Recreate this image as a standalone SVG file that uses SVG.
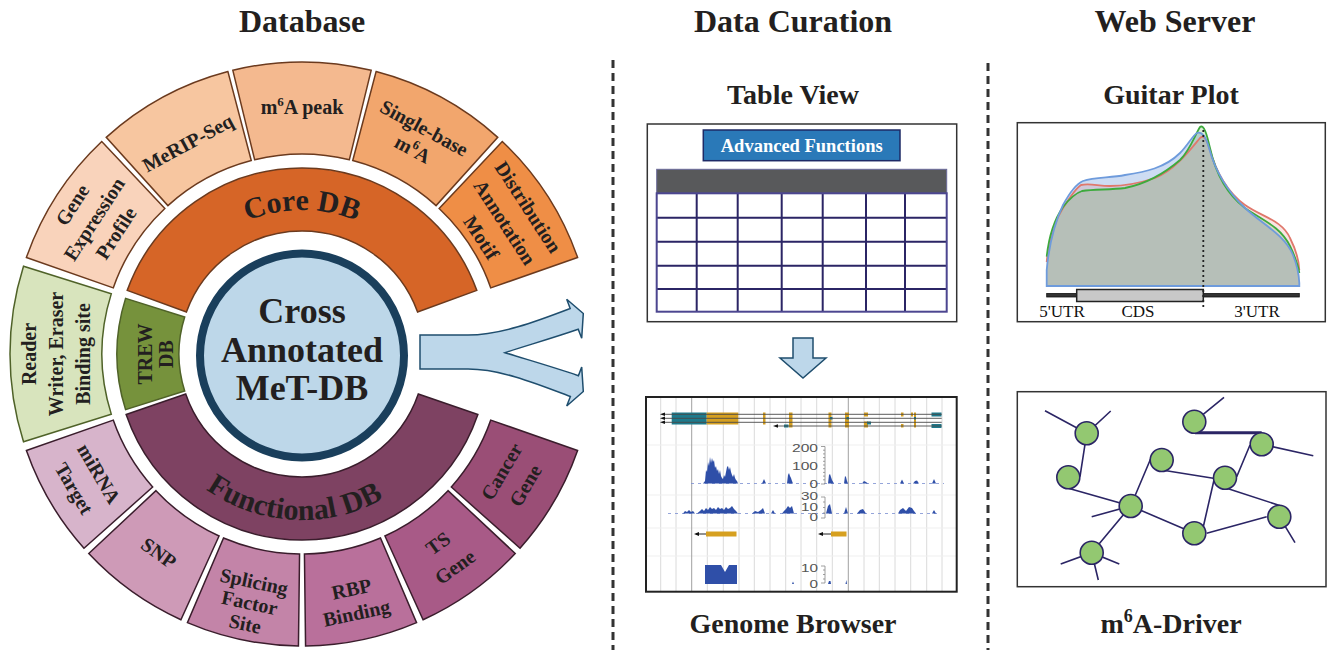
<svg xmlns="http://www.w3.org/2000/svg" width="1327" height="650" viewBox="0 0 1327 650">
  <style>
    .title { font-family: "Liberation Serif", "Times New Roman", serif; font-weight: bold; fill: #231F20; text-anchor: middle; }
    .seg { font-family: "Liberation Serif", "Times New Roman", serif; font-weight: bold; font-size: 20px; fill: #231F20; text-anchor: middle; }
    .ring { font-family: "Liberation Serif", "Times New Roman", serif; font-weight: bold; fill: #231F20; }
    .orange { stroke: #6B3A1E; stroke-width: 1.5; }
    .green { stroke: #4F6228; stroke-width: 1.5; }
    .plum { stroke: #3A1D2C; stroke-width: 1.5; }
    .grid { stroke: #2B2565; stroke-width: 2; fill: none; }
    .vgrid { stroke: #DADADA; stroke-width: 1; }
    .cov { fill: #2F4FA8; }
    .axis { font-family: "Liberation Sans", Arial, sans-serif; font-size: 11px; fill: #555; }
    .tick { stroke: #888; stroke-width: 0.8; fill: none; }
    .edge { stroke: #2B2565; stroke-width: 1.6; fill: none; }
    .node { fill: #93C871; stroke: #2B2565; stroke-width: 1.6; }
    .utr { font-family: "Liberation Serif", "Times New Roman", serif; font-size: 17px; fill: #111; text-anchor: middle; }
  </style>
  <defs>
    <!-- sector shapes centred on "up"; each segment group rotates one into place -->
    <path id="secTop" d="M -69.16 -283.69 A 292 292 0 0 1 69.16 -283.69 L 47.37 -194.31 A 200 200 0 0 0 -47.37 -194.31 Z"/>
    <path id="secSide" d="M -87.81 -278.49 A 292 292 0 0 1 87.81 -278.49 L 60.14 -190.74 A 200 200 0 0 0 -60.14 -190.74 Z"/>
    <path id="secBot" d="M -56.72 -286.44 A 292 292 0 0 1 56.72 -286.44 L 38.85 -196.19 A 200 200 0 0 0 -38.85 -196.19 Z"/>
    <path id="arcCore" d="M -124.7 -72 A 144 144 0 0 1 124.7 -72"/>
    <path id="arcFunc" d="M -147.9 75.4 A 166 166 0 0 0 139.2 90.4"/>
  </defs>

  <!-- column headings -->
  <text class="title" x="302" y="32" font-size="32">Database</text>
  <text class="title" x="793" y="32" font-size="32">Data Curation</text>
  <text class="title" x="1175" y="32" font-size="32">Web Server</text>

  <!-- column separators -->
  <g stroke="#333" stroke-width="3" stroke-dasharray="8 5">
    <line x1="613" y1="60" x2="613" y2="650"/>
    <line x1="988" y1="63" x2="988" y2="650"/>
  </g>

  <!-- ===== database wheel ===== -->
  <g id="wheel" transform="translate(302 354)">
    <!-- outer ring, top half -->
    <g id="seg-gene" transform="rotate(-57)">
      <use href="#secTop" class="orange" fill="#F9D3BB"/>
      <text class="seg" y="-267">Gene</text>
      <text class="seg" y="-241">Expression</text>
      <text class="seg" y="-215">Profile</text>
    </g>
    <g id="seg-merip" transform="rotate(-28.4)">
      <use href="#secTop" class="orange" fill="#F7C6A0"/>
      <text class="seg" y="-233">MeRIP-Seq</text>
    </g>
    <g id="seg-peak" transform="rotate(0)">
      <use href="#secTop" class="orange" fill="#F4B98F"/>
      <text class="seg" y="-240">m<tspan dy="-8" font-size="13">6</tspan><tspan dy="8">A peak</tspan></text>
    </g>
    <g id="seg-single" transform="rotate(28.4)">
      <use href="#secTop" class="orange" fill="#F2A66D"/>
      <text class="seg" y="-250">Single-base</text>
      <text class="seg" y="-226">m<tspan dy="-8" font-size="13">6</tspan><tspan dy="8">A</tspan></text>
    </g>
    <g id="seg-dist" transform="rotate(57)">
      <use href="#secTop" class="orange" fill="#EF8E46"/>
      <text class="seg" y="-263">Distribution</text>
      <text class="seg" y="-235">Annotation</text>
      <text class="seg" y="-207">Motif</text>
    </g>
    <g id="seg-reader" transform="rotate(-90)">
      <use href="#secSide" class="green" fill="#D8E4BD"/>
      <text class="seg" y="-266" font-size="19">Reader</text>
      <text class="seg" y="-239" font-size="19">Writer, Eraser</text>
      <text class="seg" y="-212" font-size="19">Binding site</text>
    </g>

    <!-- outer ring, bottom half -->
    <g id="seg-cancer" transform="rotate(120.5)">
      <use href="#secBot" class="plum" fill="#9A4E76"/>
      <g transform="rotate(180)">
        <text class="seg" y="238.5">Cancer</text>
        <text class="seg" y="266">Gene</text>
      </g>
    </g>
    <g id="seg-ts" transform="rotate(144.3)">
      <use href="#secBot" class="plum" fill="#A85A87"/>
      <g transform="rotate(180)">
        <text class="seg" y="240">TS</text>
        <text class="seg" y="269">Gene</text>
      </g>
    </g>
    <g id="seg-rbp" transform="rotate(168.1)">
      <use href="#secBot" class="plum" fill="#B9709B"/>
      <g transform="rotate(180)">
        <text class="seg" y="247">RBP</text>
        <text class="seg" y="271.5">Binding</text>
      </g>
    </g>
    <g id="seg-splicing" transform="rotate(191.9)">
      <use href="#secBot" class="plum" fill="#C384A8"/>
      <g transform="rotate(180)">
        <text class="seg" y="239.5">Splicing</text>
        <text class="seg" y="261">Factor</text>
        <text class="seg" y="282.5">Site</text>
      </g>
    </g>
    <g id="seg-snp" transform="rotate(215.7)">
      <use href="#secBot" class="plum" fill="#CE9AB7"/>
      <g transform="rotate(180)">
        <text class="seg" y="252">SNP</text>
      </g>
    </g>
    <g id="seg-mirna" transform="rotate(239.5)">
      <use href="#secBot" class="plum" fill="#D7B4CB"/>
      <g transform="rotate(180)">
        <text class="seg" y="242.5">miRNA</text>
        <text class="seg" y="271.5">Target</text>
      </g>
    </g>

    <!-- inner ring -->
    <g id="core-db">
      <path class="orange" fill="#D66527" d="M -174.78 -63.62 A 186 186 0 0 1 174.78 -63.62 L 115.58 -42.07 A 123 123 0 0 0 -115.58 -42.07 Z"/>
      <text class="ring" font-size="30"><textPath href="#arcCore" startOffset="50%" text-anchor="middle">Core DB</textPath></text>
    </g>
    <g id="trew-db" transform="rotate(-90)">
      <path class="green" fill="#76923C" d="M -55.63 -176.44 A 185 185 0 0 1 55.63 -176.44 L 36.99 -117.31 A 123 123 0 0 0 -36.99 -117.31 Z"/>
      <text class="seg" y="-150.5" font-size="27">TREW</text>
      <text class="seg" y="-129" font-size="27">DB</text>
    </g>
    <g id="functional-db">
      <path class="plum" fill="#7E4262" transform="rotate(180)" d="M -175.87 -60.56 A 186 186 0 0 1 175.87 -60.56 L 116.3 -40.05 A 123 123 0 0 0 -116.3 -40.05 Z"/>
      <text class="ring" font-size="30"><textPath href="#arcFunc" startOffset="50%" text-anchor="middle">Functional DB</textPath></text>
    </g>
  </g>

  <!-- hub -->
  <g id="hub">
    <circle cx="302" cy="355.5" r="102" fill="#BDD7E9" stroke="#1A3F5C" stroke-width="8"/>
    <text class="title" x="302" y="323" font-size="36">Cross</text>
    <text class="title" x="302" y="362" font-size="36">Annotated</text>
    <text class="title" x="302" y="400" font-size="36">MeT-DB</text>
  </g>

  <!-- connectors -->
  <g id="connectors" fill="#BDD7EA" stroke="#1F4E6E" stroke-width="1.5" stroke-linejoin="miter">
    <path d="M 420 335 L 468 335 C 500 335 535 322 570.2 308.5 L 566.7 299.3 L 583.3 313.5 L 581.7 338.3 L 578.2 329.3 C 550 339 525 346 505 352.7 C 525 359 550 366 578.4 375.7 L 581.7 367 L 583.3 391.5 L 566.7 406 L 570.4 396.5 C 535 383 500 369 468 369 L 420 369 Z"/>
    <path d="M 793 338 L 813 338 L 813 358 L 826 358 L 803 378 L 780 358 L 793 358 Z"/>
  </g>

  <!-- ===== table view ===== -->
  <g id="table-view">
    <text class="title" x="793" y="104" font-size="28">Table View</text>
    <rect x="647.3" y="124" width="309.4" height="197.7" fill="#fff" stroke="#333" stroke-width="1.5"/>
    <rect x="703.3" y="130" width="196.7" height="30.7" fill="#2A79B8" stroke="#1E2A66" stroke-width="1.5"/>
    <text class="title" x="801.7" y="151.5" font-size="18.5" style="fill:#fff">Advanced Functions</text>
    <rect x="656.7" y="169.3" width="290" height="24" fill="#58595B" stroke="#6B6A9A" stroke-width="1"/>
    <path class="grid" d="M 656.7 217.7 H 946.7 M 656.7 241.7 H 946.7 M 656.7 265.7 H 946.7 M 656.7 289 H 946.7 M 696.7 193.3 V 311.7 M 737.7 193.3 V 311.7 M 781.7 193.3 V 311.7 M 822.7 193.3 V 311.7 M 866 193.3 V 311.7 M 905 193.3 V 311.7"/>
    <rect x="656.7" y="193.3" width="290" height="118.4" fill="none" stroke="#4C4690" stroke-width="2"/>
  </g>

  <!-- ===== genome browser ===== -->
  <g id="genome-browser">
    <rect x="646" y="397" width="310.7" height="194.7" fill="#fff"/>
    <path class="vgrid" d="M 660.7 398 V 591 M 676 398 V 591 M 707.3 398 V 591 M 723.3 398 V 591 M 739 398 V 591 M 754.3 398 V 591 M 770 398 V 591 M 785.7 398 V 591 M 801 398 V 591 M 816.7 398 V 591 M 832.3 398 V 591 M 864 398 V 591 M 879.3 398 V 591 M 895 398 V 591 M 910.7 398 V 591 M 926.7 398 V 591 M 942 398 V 591"/>
    <path d="M 647 445 H 956 M 647 495 H 956 M 647 528 H 956 M 647 556 H 956" stroke="#EFEFEF" stroke-width="1"/>
    <path d="M 691.7 398 V 591 M 848.3 398 V 591" stroke="#A0A0A0" stroke-width="1"/>

    <!-- transcript models -->
    <rect x="671.7" y="412.5" width="35" height="12" fill="#1E7A8C"/>
    <rect x="706.7" y="412.5" width="31.6" height="12" fill="#D6A020"/>
    <g fill="#D6A020">
      <rect x="763" y="412.5" width="2.5" height="12"/>
      <rect x="789" y="412.5" width="3.5" height="15"/>
      <rect x="828.5" y="412.5" width="3" height="15"/>
      <rect x="845" y="412.5" width="4" height="15"/>
      <rect x="864" y="412.5" width="4" height="4"/>
      <rect x="864" y="421.5" width="4" height="6"/>
      <rect x="901" y="412.5" width="2.5" height="4"/>
      <rect x="901" y="424" width="2.5" height="3.5"/>
      <rect x="911" y="412.5" width="2" height="4"/>
      <rect x="914" y="412.5" width="2" height="15"/>
    </g>
    <g fill="#1E7A8C">
      <rect x="931.5" y="412.5" width="10" height="4"/>
      <rect x="931.5" y="424" width="10" height="4"/>
      <rect x="784" y="424.5" width="4.5" height="3"/>
      <rect x="830" y="417" width="2.5" height="2.5"/>
      <rect x="846.5" y="417" width="2.5" height="2.5"/>
      <rect x="867" y="421.5" width="4" height="3"/>
      <rect x="914" y="417" width="2" height="2.5"/>
    </g>
    <path d="M 664 414.3 H 941.7 M 664 418.3 H 941.7 M 664 422.3 H 941.7 M 777 426 H 941.7" stroke="#4A4A4A" stroke-width="0.9"/>
    <g fill="#111">
      <path d="M 660 414.3 L 665 412.6 L 665 416 Z"/>
      <path d="M 660 418.3 L 665 416.6 L 665 420 Z"/>
      <path d="M 660 422.3 L 665 420.6 L 665 424 Z"/>
      <path d="M 773 426 L 778 424.3 L 778 427.7 Z"/>
    </g>

    <!-- coverage track 1 -->
    <line x1="691" y1="483.5" x2="944" y2="483.5" stroke="#7A8ED0" stroke-width="0.8" stroke-dasharray="3 4"/>
    <path class="cov" d="M 703 483.5 L 705 481 L 706 470 L 707 472 L 708 462 L 709 466 L 710 457 L 711 463 L 712 458 L 713 462 L 714 460 L 715 468 L 716 466 L 717 471 L 718 469 L 719 474 L 720 470 L 721 476 L 722 478 L 723 479 L 724 475 L 725 477 L 726 472 L 727 467 L 728 466 L 729 470 L 730 467 L 731 472 L 732 475 L 733 477 L 734 474 L 735 478 L 736 480 L 737 481 L 738 483.5 Z M 762 483.5 L 764 479 L 766 483.5 Z M 787 483.5 L 788 475 L 789 473 L 790 476 L 791 478 L 792 481 L 793 483.5 Z M 828 483.5 L 829 475 L 830 474 L 831 477 L 832 480 L 834 483.5 Z M 844 483.5 L 845 476 L 846 477 L 847 481 L 848 483.5 Z M 862 483.5 L 864 481 L 866 482 L 868 483.5 Z M 900 483.5 L 902 479.5 L 904 483.5 Z M 913 483.5 L 915 481 L 917 480.5 L 919 483.5 Z M 932 483.5 L 934 479 L 936 483.5 Z"/>
    <text class="axis" x="792" y="452" textLength="26" lengthAdjust="spacingAndGlyphs">200</text>
    <text class="axis" x="792" y="470" textLength="26" lengthAdjust="spacingAndGlyphs">100</text>
    <text class="axis" x="809.5" y="488" textLength="8.5" lengthAdjust="spacingAndGlyphs">0</text>
    <path class="tick" d="M 821 446.5 H 825 V 484 H 821 M 823 450.2 H 825 M 823 453.9 H 825 M 823 457.6 H 825 M 823 461.3 H 825 M 823 465 H 825 M 823 468.7 H 825 M 823 472.4 H 825 M 823 476.1 H 825 M 823 479.8 H 825"/>

    <!-- coverage track 2 -->
    <line x1="668" y1="513.5" x2="938" y2="513.5" stroke="#7A8ED0" stroke-width="0.8" stroke-dasharray="3 4"/>
    <path class="cov" d="M 683 513.5 L 685 511 L 687 512 L 689 510 L 691 512 L 693 511 L 695 513.5 Z M 697 513.5 L 700 511 L 702 509 L 704 511 L 706 508 L 708 510 L 710 507 L 712 509 L 714 508 L 716 510 L 718 507 L 720 509 L 722 508 L 724 510 L 726 507 L 728 509 L 730 508 L 732 506 L 734 509 L 736 511 L 738 513.5 Z M 752 513.5 L 755 511 L 758 512 L 761 510 L 763 508 L 765 513.5 Z M 771 513.5 L 773 510 L 775 513.5 Z M 782 513.5 L 784 511 L 786 509 L 788 506 L 790 508 L 792 506 L 794 513.5 Z M 826 513.5 L 828 506 L 830 504 L 832 513.5 Z M 844 513.5 L 846 507 L 848 513.5 Z M 857 513.5 L 860 510 L 863 509 L 866 513.5 Z M 898 513.5 L 900 510 L 903 508 L 906 511 L 909 507 L 912 508 L 914 511 L 916 513.5 Z M 932 513.5 L 934 510 L 936 513.5 Z"/>
    <text class="axis" x="801" y="500" font-size="9" textLength="17" lengthAdjust="spacingAndGlyphs">30</text>
    <text class="axis" x="801" y="510.5" font-size="9" textLength="17" lengthAdjust="spacingAndGlyphs">10</text>
    <text class="axis" x="809.5" y="521" font-size="9" textLength="8.5" lengthAdjust="spacingAndGlyphs">0</text>
    <path class="tick" d="M 821 497 H 825 V 518 H 821 M 823 502 H 825 M 823 507.5 H 825 M 823 513 H 825"/>

    <!-- gene annotation -->
    <path d="M 696 534 H 706 M 820 534 H 831" stroke="#222" stroke-width="1"/>
    <path d="M 694 534 L 699 532 L 699 536 Z M 818 534 L 823 532 L 823 536 Z" fill="#111"/>
    <rect x="706" y="531.5" width="30.5" height="5" fill="#D6A020"/>
    <rect x="831" y="531.5" width="15.5" height="5" fill="#D6A020"/>

    <!-- coverage track 3 -->
    <path class="cov" d="M 705 584 L 705 565 L 721 565 L 725 572 L 729 565 L 737 565 L 737 584 Z M 792 584 L 793 581.5 L 794 584 Z M 828 584 L 829 581 L 830.5 581 L 831 584 Z M 845.5 584 L 846.3 580 L 847 584 Z"/>
    <text class="axis" x="801" y="572" textLength="17" lengthAdjust="spacingAndGlyphs">10</text>
    <text class="axis" x="809.5" y="588" textLength="8.5" lengthAdjust="spacingAndGlyphs">0</text>
    <path class="tick" d="M 821 566 H 825 V 583 H 821 M 823 570 H 825 M 823 574.5 H 825 M 823 579 H 825"/>

    <rect x="646" y="397" width="310.7" height="194.7" fill="none" stroke="#222" stroke-width="2"/>
    <text class="title" x="793" y="633" font-size="28">Genome Browser</text>
  </g>

  <!-- ===== guitar plot ===== -->
  <g id="guitar-plot">
    <text class="title" x="1171" y="104" font-size="28">Guitar Plot</text>
    <rect x="1017.3" y="122.7" width="308" height="199" fill="#fff" stroke="#333" stroke-width="1.5"/>
    <path fill="#5A8CD8" fill-opacity="0.3" d="M 1046.7 286 L 1046.7 270 C 1049 245 1055 222 1063 205 C 1070 192 1076 184 1083 181 C 1095 177 1110 178 1125 175 C 1145 172 1165 168 1180 153 C 1188 145 1193 135 1197 133 C 1202 131 1206 137 1209 148 C 1215 170 1228 192 1245 208 C 1262 224 1285 235 1293 255 C 1297 265 1299 276 1299.3 283 L 1299.3 286 Z"/>
    <path fill="#DC6E64" fill-opacity="0.18" d="M 1046.7 286 L 1046.7 262 C 1049 238 1054 222 1063 208 C 1070 197 1075 189 1081 185 C 1090 183 1098 186 1110 186 C 1125 186 1140 183 1155 178 C 1175 170 1190 150 1200 138 C 1204 134 1207 140 1210 150 C 1216 172 1228 193 1245 205 C 1262 217 1282 220 1290 238 C 1296 250 1299 262 1299.3 270 L 1299.3 286 Z"/>
    <path fill="#5AA046" fill-opacity="0.22" d="M 1046.7 286 L 1046.7 256.7 C 1049 235 1054 220 1063 207 C 1070 198 1076 193 1082 191 C 1095 189 1110 190 1125 188 C 1145 184 1165 173 1180 160 C 1190 150 1195 135 1200 127 C 1204 124 1207 135 1210 148 C 1216 175 1228 195 1245 208 C 1262 220 1280 226 1290 246 C 1296 258 1299 270 1299.3 273 L 1299.3 286 Z"/>
    <g fill="none" stroke-width="1.8">
      <path stroke="#E0786C" d="M 1046.7 262 C 1049 238 1054 222 1063 208 C 1070 197 1075 189 1081 185 C 1090 183 1098 186 1110 186 C 1125 186 1140 183 1155 178 C 1175 170 1190 150 1200 138 C 1204 134 1207 140 1210 150 C 1216 172 1228 193 1245 205 C 1262 217 1282 220 1290 238 C 1296 250 1299 262 1299.3 270"/>
      <path stroke="#3DAA3D" d="M 1046.7 256.7 C 1049 235 1054 220 1063 207 C 1070 198 1076 193 1082 191 C 1095 189 1110 190 1125 188 C 1145 184 1165 173 1180 160 C 1190 150 1195 135 1200 127 C 1204 124 1207 135 1210 148 C 1216 175 1228 195 1245 208 C 1262 220 1280 226 1290 246 C 1296 258 1299 270 1299.3 273"/>
      <path stroke="#6E9BDC" d="M 1046.7 286 L 1046.7 270 C 1049 245 1055 222 1063 205 C 1070 192 1076 184 1083 181 C 1095 177 1110 178 1125 175 C 1145 172 1165 168 1180 153 C 1188 145 1193 135 1197 133 C 1202 131 1206 137 1209 148 C 1215 170 1228 192 1245 208 C 1262 224 1285 235 1293 255 C 1297 265 1299 276 1299.3 283 L 1299.3 286 Z"/>
    </g>
    <rect x="1046.7" y="293.5" width="252.6" height="3.5" fill="#333" stroke="#111" stroke-width="0.8"/>
    <rect x="1076.7" y="289.5" width="126.6" height="12" fill="#C8C8C8" stroke="#222" stroke-width="1.5"/>
    <line x1="1203.3" y1="130" x2="1203.3" y2="309" stroke="#222" stroke-width="1.8" stroke-dasharray="2 3"/>
    <text class="utr" x="1062" y="316.5">5'UTR</text>
    <text class="utr" x="1138" y="316.5">CDS</text>
    <text class="utr" x="1257" y="316.5">3'UTR</text>
  </g>

  <!-- ===== m6A-Driver network ===== -->
  <g id="m6a-driver">
    <rect x="1017.3" y="391.7" width="308.7" height="195" fill="#fff" stroke="#333" stroke-width="1.5"/>
    <path class="edge" d="M 1045 410.7 L 1086.7 433.3 L 1110.7 411 M 1086.7 433.3 L 1080 476.7 M 1068.3 488.3 L 1130.7 506 L 1091.7 516.7 M 1130.7 506 L 1091.7 552.7 M 1060.7 564 L 1091.7 552.7 L 1119.3 564 M 1091.7 552.7 L 1098.3 580 M 1130.7 506 L 1151 458 M 1130.7 506 L 1194.3 533.3 M 1161.7 470 L 1213.3 478.3 M 1194.3 421.7 L 1224 397.3 M 1261.7 444.3 L 1313.3 455.7 M 1250 445 L 1236.7 476.7 M 1214 480 L 1203.3 526.7 M 1226.7 488.3 L 1283.3 506.7 M 1206.7 533.3 L 1266.7 516.7 M 1279.3 516.7 L 1295 542.7"/>
    <line x1="1195" y1="432.7" x2="1261.7" y2="432.7" stroke="#2B2565" stroke-width="3"/>
    <g id="net-nodes">
      <circle class="node" cx="1086.7" cy="433.3" r="11.5"/>
      <circle class="node" cx="1068.3" cy="477.3" r="11.5"/>
      <circle class="node" cx="1130.7" cy="506" r="11.5"/>
      <circle class="node" cx="1091.7" cy="552.7" r="11.5"/>
      <circle class="node" cx="1161.7" cy="460" r="11.5"/>
      <circle class="node" cx="1194.3" cy="421.7" r="11.5"/>
      <circle class="node" cx="1261.7" cy="444.3" r="11.5"/>
      <circle class="node" cx="1225" cy="477.7" r="11.5"/>
      <circle class="node" cx="1194.3" cy="533.3" r="11.5"/>
      <circle class="node" cx="1279.3" cy="516.7" r="11.5"/>
    </g>
    <text class="title" x="1171" y="633" font-size="28">m<tspan dy="-11" font-size="18">6</tspan><tspan dy="11">A-Driver</tspan></text>
  </g>
</svg>
